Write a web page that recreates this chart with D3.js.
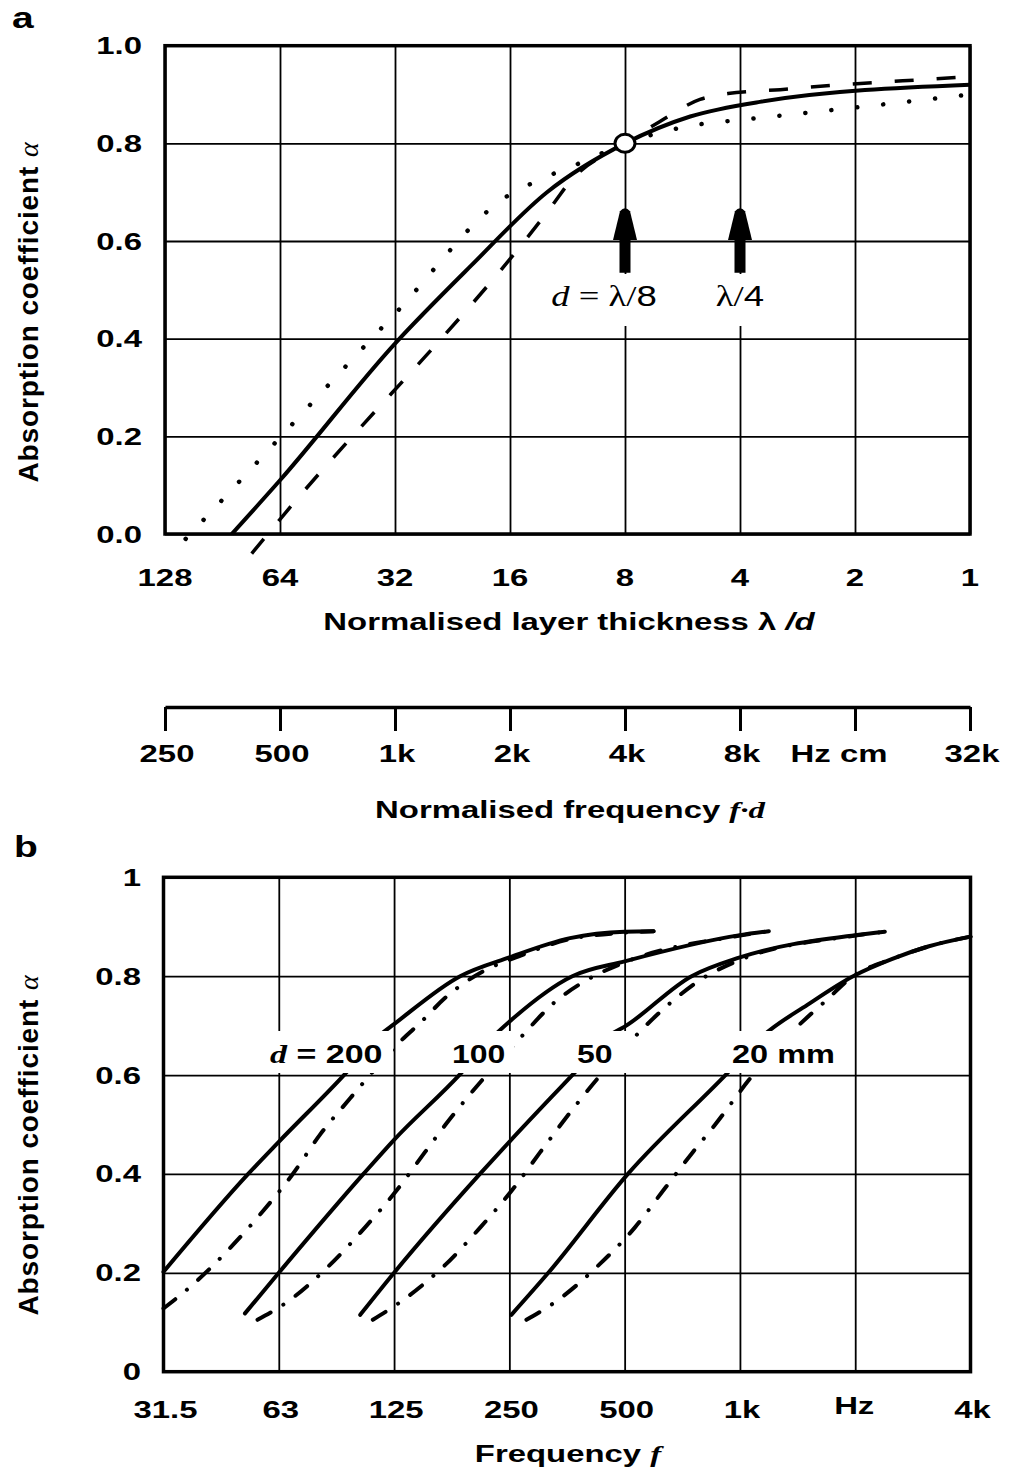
<!DOCTYPE html>
<html><head><meta charset="utf-8">
<script src="https://cdn.jsdelivr.net/npm/d3@7"></script>
<style>body{margin:0;background:#fff}svg{display:block}</style>
</head><body><svg id="c" width="1010" height="1473"></svg>
<script>
// ---------- DATA ----------
// Panel a: normalised layer thickness lambda/d (log2, reversed) vs absorption
const thicknessTicks = [128, 64, 32, 16, 8, 4, 2, 1];
const thicknessLabels = ["128", "64", "32", "16", "8", "4", "2", "1"];
const alphaTicksA = [0, 0.2, 0.4, 0.6, 0.8, 1.0];
const alphaLabelsA = ["0.0", "0.2", "0.4", "0.6", "0.8", "1.0"];
const solidA = [[85.6,0],[64,0.11],[32,0.39],[20.2,0.55],[12.8,0.70],[8,0.80],[5.4,0.855],[3.55,0.885],[1,0.92]];
const dottedA = [[113,-0.01],[100.6,0.032],[32,0.451],[16.1,0.694],[14.04,0.718],[12.2,0.739],[10.54,0.759],[8,0.80],[5.19,0.838],[3.88,0.849],[2.19,0.870],[1,0.90]];
const dashedA = [[75.9,-0.04],[64,0.03],[12.27,0.678],[11.19,0.72],[8,0.80],[6.48,0.845],[5.09,0.89],[4.3,0.902],[3.14,0.91],[2.19,0.92],[1.5,0.928],[1,0.937]];
const markerPoint = [8, 0.80];
const arrowPositions = [8, 4];
const arrowAlpha = [0.535, 0.602, 0.667]; // shaft bottom, head base, tip
// Middle axis: normalised frequency f*d
const fdTicks = [250, 500, 1000, 2000, 4000, 8000, 16000, 32000];
const fdLabels = ["250", "500", "1k", "2k", "4k", "8k", "Hz cm", "32k"];
// Panel b: frequency vs absorption for layer thicknesses
const freqTicks = [31.25, 62.5, 125, 250, 500, 1000, 2000, 4000];
const freqLabels = ["31.5", "63", "125", "250", "500", "1k", "Hz", "4k"];
const alphaTicksB = [0, 0.2, 0.4, 0.6, 0.8, 1];
const alphaLabelsB = ["0", "0.2", "0.4", "0.6", "0.8", "1"];
const thicknessNames = ["200", "100", "50", "20"];
const solid200 = [[31.25,0.202],[52,0.4],[62.5,0.465],[93,0.602],[114.8,0.681],[125,0.703],[186,0.8],[250,0.838],[360,0.877],[500,0.89],[595,0.891]];
const solid100 = [[51,0.118],[62.5,0.2],[104,0.4],[125,0.469],[186,0.602],[229,0.681],[250,0.708],[365,0.8],[500,0.83],[1000,0.883],[1190,0.891]];
const solid50 = [[102,0.115],[125,0.2],[209.5,0.4],[250,0.465],[367,0.602],[458,0.681],[500,0.698],[748,0.8],[1000,0.838],[2000,0.883],[2390,0.89]];
const solid20 = [[253,0.115],[316,0.2],[510,0.4],[922,0.602],[1155,0.681],[1500,0.742],[1975,0.8],[2500,0.835],[3100,0.86],[4000,0.88]];
const dashdot200 = [[31.25,0.128],[37,0.174],[46.6,0.25],[57,0.326],[68,0.4],[80,0.479],[96,0.553],[110,0.607],[127,0.661],[146,0.705],[171,0.758],[216,0.812],[260,0.838],[360,0.875],[500,0.888],[595,0.891]];
const dashdot100 = [[55,0.105],[66,0.142],[85,0.216],[105,0.292],[127,0.367],[150.5,0.444],[170,0.499],[214,0.593],[264,0.671],[329,0.748],[398,0.792],[500,0.828],[1000,0.882],[1190,0.891]];
const dashdot50 = [[110,0.105],[132,0.145],[170,0.216],[210,0.292],[254,0.367],[301,0.444],[340,0.499],[427,0.595],[522,0.671],[663,0.748],[786,0.792],[1000,0.833],[2000,0.882],[2390,0.89]];
const dashdot20 = [[277,0.105],[335,0.145],[431,0.218],[532,0.292],[637,0.371],[755,0.445],[860,0.499],[1073,0.597],[1400,0.695],[1674,0.75],[1975,0.8],[2500,0.835],[3100,0.86],[4000,0.88]];

// ---------- DRAWING ----------
const svg = d3.select("#c");
svg.append("rect").attr("width",1010).attr("height",1473).attr("fill","#fff");
const SANS = "'Liberation Sans', Arial, Helvetica, sans-serif";
const SERIF = "'Liberation Serif', 'Times New Roman', serif";
const SX = 1.37;

function label(parent, x, y, str, anchor, size, sx, weight) {
  return parent.append("text")
    .attr("transform", `translate(${x},${y}) scale(${sx},1)`)
    .attr("text-anchor", anchor).attr("font-family", SANS)
    .attr("font-size", size).attr("font-weight", weight || "bold")
    .attr("fill", "#000").text(str);
}

// Panel a scales
const xA = d3.scaleLog().base(2).domain([128, 1]).range([165, 970]);
const yA = d3.scaleLinear().domain([0, 1]).range([534, 45.7]);
// Panel b scales
const xB = d3.scaleLog().base(2).domain([31.25, 4000]).range([163.5, 970.5]);
const yB = d3.scaleLinear().domain([0, 1]).range([1371.7, 877.3]);
// middle axis
const xF = d3.scaleLog().base(2).domain([250, 32000]).range([165, 970]);

function grid(g, xs, ys, xt, yt) {
  const [x0, x1] = xs.range(), [y0, y1] = ys.range();
  const gx = g.append("g").attr("transform", `translate(0,${y0})`)
    .call(d3.axisBottom(xs).tickValues(xt).tickSize(-(y0 - y1)).tickFormat(""));
  const gy = g.append("g").attr("transform", `translate(${x0},0)`)
    .call(d3.axisLeft(ys).tickValues(yt).tickSize(-(x1 - x0)).tickFormat(""));
  [gx, gy].forEach(a => {
    a.select(".domain").remove();
    a.selectAll(".tick line").attr("stroke", "#000").attr("stroke-width", 1.8);
  });
}

// ===== Panel a =====
const gA = svg.append("g");
grid(gA, xA, yA, thicknessTicks, alphaTicksA);

const lineA = d3.line().x(d => xA(d[0])).y(d => yA(d[1])).curve(d3.curveMonotoneX);
gA.append("path").datum(dottedA).attr("d", lineA).attr("fill", "none").attr("stroke", "#000")
  .attr("stroke-width", 4.5).attr("stroke-linecap", "round").attr("stroke-dasharray", "0.1,26");
gA.append("path").datum(dashedA).attr("d", lineA).attr("fill", "none").attr("stroke", "#000")
  .attr("stroke-width", 3.5).attr("stroke-dasharray", "19,23");
gA.append("path").datum(solidA).attr("d", lineA).attr("fill", "none").attr("stroke", "#000")
  .attr("stroke-width", 4).attr("stroke-linejoin", "round");

// label masks
gA.append("rect").attr("x", 545).attr("y", 274).attr("width", 120).attr("height", 52).attr("fill", "#fff");
gA.append("rect").attr("x", 710).attr("y", 274).attr("width", 62).attr("height", 52).attr("fill", "#fff");

// arrows
arrowPositions.forEach(v => {
  const x = xA(v), yb = yA(arrowAlpha[0]), yh = yA(arrowAlpha[1]), yt = yA(arrowAlpha[2]);
  gA.append("rect").attr("x", x - 5.5).attr("y", yh - 1).attr("width", 11).attr("height", yb - yh + 1).attr("fill", "#000");
  gA.append("path").attr("d", `M${x-12},${yh} L${x-5},${yt+3} Q${x},${yt-3} ${x+5},${yt+3} L${x+12},${yh} Z`).attr("fill", "#000");
});

// frame
gA.append("rect").attr("x", xA.range()[0]).attr("y", yA.range()[1])
  .attr("width", xA.range()[1] - xA.range()[0]).attr("height", yA.range()[0] - yA.range()[1])
  .attr("fill", "none").attr("stroke", "#000").attr("stroke-width", 3.5);

// marker
gA.append("ellipse").attr("cx", xA(markerPoint[0])).attr("cy", yA(markerPoint[1]))
  .attr("rx", 10).attr("ry", 9).attr("fill", "#fff").attr("stroke", "#000").attr("stroke-width", 3);

// annotation labels
{
  const t = gA.append("text").attr("transform", `translate(604,306) scale(1.22,1)`)
    .attr("text-anchor", "middle").attr("font-size", 30).attr("fill", "#000");
  t.append("tspan").attr("font-family", SERIF).attr("font-style", "italic").text("d");
  t.append("tspan").attr("font-family", SERIF).text(" = \u03bb/");
  t.append("tspan").attr("font-family", SANS).text("8");
  const t2 = gA.append("text").attr("transform", `translate(740,306) scale(1.22,1)`)
    .attr("text-anchor", "middle").attr("font-size", 30).attr("fill", "#000");
  t2.append("tspan").attr("font-family", SERIF).text("\u03bb/");
  t2.append("tspan").attr("font-family", SANS).text("4");
}

// axis labels panel a
thicknessTicks.forEach((v, i) => label(svg, xA(v), 586, thicknessLabels[i], "middle", 24, SX));
alphaTicksA.forEach((v, i) => label(svg, 142, yA(v) + 8.5, alphaLabelsA[i], "end", 24, SX));
{
  const t = svg.append("text").attr("transform", `translate(569,630) scale(${SX},1)`)
    .attr("text-anchor", "middle").attr("font-family", SANS).attr("font-size", 24).attr("font-weight", "bold");
  t.append("tspan").text("Normalised layer thickness \u03bb ");
  t.append("tspan").attr("font-style", "italic").text("/d");
}

// y titles
function yTitle(cy) {
  const t = svg.append("text").attr("transform", `translate(38,${cy}) rotate(-90)`)
    .attr("text-anchor", "middle").attr("font-family", SANS).attr("font-size", 28)
    .attr("font-weight", "bold").attr("letter-spacing", 0.9);
  t.append("tspan").text("Absorption coefficient ");
  t.append("tspan").attr("font-family", SERIF).attr("font-weight", "normal").attr("font-style", "italic").text("\u03b1");
}
yTitle(312);
yTitle(1145);

// panel letters
label(svg, 12, 28, "a", "start", 30, 1.3);
label(svg, 14, 857, "b", "start", 30, 1.3);

// ===== Middle axis =====
const gF = svg.append("g").attr("transform", "translate(0,707)")
  .call(d3.axisBottom(xF).tickValues(fdTicks).tickSize(24).tickSizeOuter(0).tickFormat(""));
gF.select(".domain").attr("stroke", "#000").attr("stroke-width", 3.5);
gF.selectAll(".tick line").attr("stroke", "#000").attr("stroke-width", 3);
fdTicks.forEach((v, i) => {
  const dx = fdLabels[i] === "Hz cm" ? -16 : 2;
  label(svg, xF(v) + dx, 762, fdLabels[i], "middle", 24, SX);
});
{
  const t = svg.append("text").attr("transform", `translate(570,818) scale(${SX},1)`)
    .attr("text-anchor", "middle").attr("font-family", SANS).attr("font-size", 24).attr("font-weight", "bold");
  t.append("tspan").text("Normalised frequency ");
  t.append("tspan").attr("font-family", SERIF).attr("font-style", "italic").text("f\u00b7d");
}

// ===== Panel b =====
const gB = svg.append("g");
grid(gB, xB, yB, freqTicks, alphaTicksB);
const lineB = d3.line().x(d => xB(d[0])).y(d => yB(d[1])).curve(d3.curveMonotoneX);
const seriesB = [
  {name: thicknessNames[0], solid: solid200, dd: dashdot200},
  {name: thicknessNames[1], solid: solid100, dd: dashdot100},
  {name: thicknessNames[2], solid: solid50, dd: dashdot50},
  {name: thicknessNames[3], solid: solid20, dd: dashdot20}
];
seriesB.forEach(s => {
  gB.append("path").datum(s.dd).attr("d", lineB).attr("fill", "none").attr("stroke", "#000")
    .attr("stroke-width", 4).attr("stroke-linecap", "round").attr("stroke-dasharray", "15,15,0.1,15");
  gB.append("path").datum(s.solid).attr("d", lineB).attr("fill", "none").attr("stroke", "#000")
    .attr("stroke-width", 4).attr("stroke-linecap", "round");
});
// label masks and labels
const masksB = [[265, 128], [446, 68], [571, 58], [722, 122]];
masksB.forEach(m => gB.append("rect").attr("x", m[0]).attr("y", 1031).attr("width", m[1]).attr("height", 42).attr("fill", "#fff"));
{
  const t = gB.append("text").attr("transform", `translate(270,1063) scale(1.36,1)`)
    .attr("font-family", SANS).attr("font-size", 25).attr("font-weight", "bold");
  t.append("tspan").attr("font-family", SERIF).attr("font-style", "italic").text("d");
  t.append("tspan").text(" = " + thicknessNames[0]);
  label(gB, 452, 1063, thicknessNames[1], "start", 25, 1.28);
  label(gB, 577, 1063, thicknessNames[2], "start", 25, 1.28);
  label(gB, 732, 1063, thicknessNames[3] + " mm", "start", 25, 1.3);
}
gB.append("rect").attr("x", xB.range()[0]).attr("y", yB.range()[1])
  .attr("width", xB.range()[1] - xB.range()[0]).attr("height", yB.range()[0] - yB.range()[1])
  .attr("fill", "none").attr("stroke", "#000").attr("stroke-width", 3.5);

freqTicks.forEach((v, i) => {
  const hz = freqLabels[i] === "Hz";
  label(svg, xB(v) + (hz ? -1 : 2), hz ? 1414 : 1418, freqLabels[i], "middle", 24, SX);
});
alphaTicksB.forEach((v, i) => label(svg, 141, yB(v) + 8.5, alphaLabelsB[i], "end", 24, SX));
{
  const t = svg.append("text").attr("transform", `translate(568,1462) scale(${SX},1)`)
    .attr("text-anchor", "middle").attr("font-family", SANS).attr("font-size", 24).attr("font-weight", "bold");
  t.append("tspan").text("Frequency ");
  t.append("tspan").attr("font-family", SERIF).attr("font-style", "italic").text("f");
}
</script></body></html>
